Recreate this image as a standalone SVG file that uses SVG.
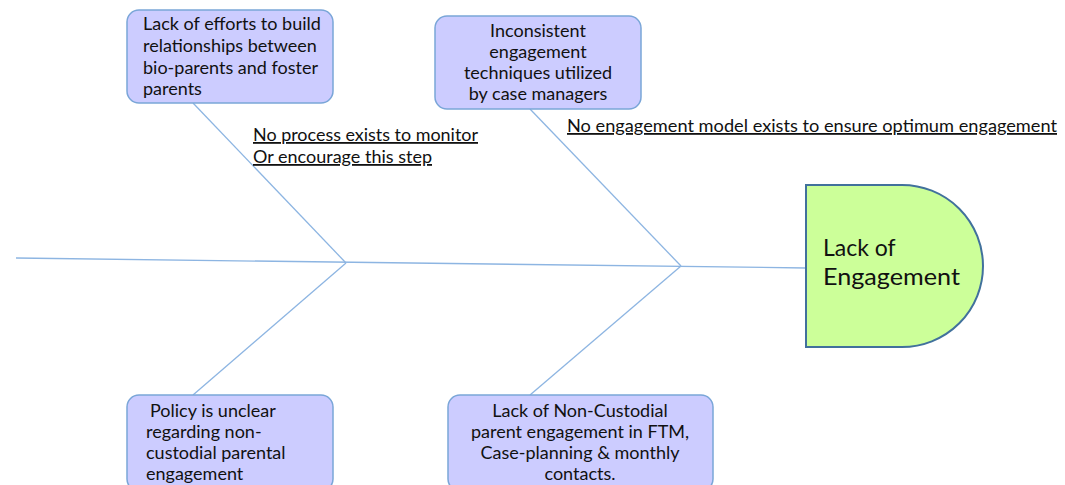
<svg xmlns="http://www.w3.org/2000/svg" width="1065" height="485" viewBox="0 0 1065 485">
<style>
.box{fill:#ccccff;stroke:#7aa6d8;stroke-width:1.5}
.bt{font-family:Lato,"Liberation Sans",sans-serif;font-size:18px;fill:#111}
.c{text-anchor:middle}
.note{font-family:Lato,"Liberation Sans",sans-serif;font-size:18px;fill:#111;text-decoration:underline}
.bone{stroke:#8db5e2;stroke-width:1.3;fill:none}
</style>
<rect width="1065" height="485" fill="#fff"/>
<g id="connectors">
<line class="bone" x1="16" y1="258" x2="806" y2="268"/>
<line class="bone" x1="193" y1="103" x2="346" y2="263"/>
<line class="bone" x1="346" y1="263" x2="193" y2="395"/>
<line class="bone" x1="530" y1="109" x2="681" y2="266"/>
<line class="bone" x1="681" y1="266" x2="530" y2="395"/>
</g>
<g id="head">
<path d="M806,185 H902 A81,81 0 0 1 902,347 H806 Z" fill="#ccff99" stroke="#41719c" stroke-width="2"/>
<text x="823" y="256" font-family="Lato,'Liberation Sans',sans-serif" font-size="23" fill="#111">Lack of</text>
<text x="823" y="285" font-family="Lato,'Liberation Sans',sans-serif" font-size="23" fill="#111" textLength="137" lengthAdjust="spacingAndGlyphs">Engagement</text>
</g>
<g id="cause1">
<rect class="box" x="127" y="10" width="206" height="93" rx="12"/>
<text class="bt" x="143" y="30">Lack of efforts to build</text>
<text class="bt" x="143" y="52">relationships between</text>
<text class="bt" x="143" y="74">bio-parents and foster</text>
<text class="bt" x="143" y="95">parents</text>
</g>
<g id="cause2">
<rect class="box" x="435" y="16" width="206" height="93" rx="12"/>
<text class="bt c" x="538" y="37">Inconsistent</text>
<text class="bt c" x="538" y="58">engagement</text>
<text class="bt c" x="538" y="79">techniques utilized</text>
<text class="bt c" x="538" y="100">by case managers</text>
</g>
<g id="cause3">
<rect class="box" x="127" y="395" width="206" height="96" rx="12"/>
<text class="bt" x="150" y="417">Policy is unclear</text>
<text class="bt" x="146" y="438">regarding non-</text>
<text class="bt" x="146" y="459">custodial parental</text>
<text class="bt" x="146" y="480">engagement</text>
</g>
<g id="cause4">
<rect class="box" x="448" y="395" width="265" height="96" rx="12"/>
<text class="bt c" x="580" y="417">Lack of Non-Custodial</text>
<text class="bt c" x="580" y="438">parent engagement in FTM,</text>
<text class="bt c" x="580" y="459">Case-planning &amp; monthly</text>
<text class="bt c" x="580" y="480">contacts.</text>
</g>
<g id="note1">
<text class="note" x="253" y="141" textLength="225" lengthAdjust="spacingAndGlyphs">No process exists to monitor</text>
<text class="note" x="253" y="163" textLength="179" lengthAdjust="spacingAndGlyphs">Or encourage this step</text>
</g>
<g id="note2">
<text class="note" x="567" y="132" textLength="490" lengthAdjust="spacingAndGlyphs">No engagement model exists to ensure optimum engagement</text>
</g>
</svg>
